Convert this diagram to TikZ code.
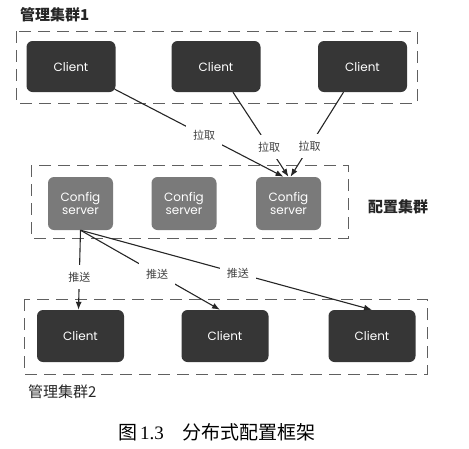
\documentclass[tikz,border=0pt]{standalone}
\usepackage{fontspec}
\newfontfamily\cjk{Noto Sans CJK SC}
\newfontfamily\gothic{Poppins}
\newfontfamily\serifnum{Liberation Serif}
\usetikzlibrary{arrows.meta}
\definecolor{clientfill}{HTML}{363636}
\definecolor{cfgfill}{HTML}{7A7A7A}
\definecolor{groupline}{HTML}{606060}
\begin{document}
\begin{tikzpicture}[x=1pt,y=-1pt,
  client/.style={rectangle,rounded corners=6pt,fill=clientfill,minimum width=89pt,minimum height=51pt,text=white,inner sep=0pt,font=\gothic\fontsize{12}{13}\selectfont},
  cfg/.style={rectangle,rounded corners=6pt,fill=cfgfill,minimum width=65pt,minimum height=53pt,text=white,align=center,inner sep=0pt,font=\gothic\fontsize{12}{12.5}\selectfont},
  group/.style={draw=groupline,dash pattern=on 12pt off 7pt,line width=0.9pt},
  link/.style={line width=1.1pt,draw=black!85,-{Latex[length=8pt,width=6pt]}},
  lbl/.style={fill=white,inner sep=7pt,text=black!75,font=\cjk\fontsize{11}{11}\selectfont},
  title/.style={anchor=west,inner sep=0pt,text=black!85,font=\cjk\bfseries\fontsize{15}{15}\selectfont}
]
\useasboundingbox (0,0) rectangle (469,448);

% group frames
\draw[group] (16,31) rectangle (417,103);
\draw[group] (31,165) rectangle (348,238);
\draw[group] (24,299) rectangle (427,374);

% titles
\node[title] (t1) at (20,15) {管理集群1};
\node[title] (t2) at (368,207) {配置集群};
\node[title,font=\cjk\fontsize{15}{15}\selectfont] (t3) at (28,392) {管理集群2};

% top clients
\node[client] (c1) at (71,66.5) {Client};
\node[client] (c2) at (216,66.5) {Client};
\node[client] (c3) at (362.5,66.5) {Client};

% config servers
\node[cfg] (s1) at (80.5,203.5) {Config\\server};
\node[cfg] (s2) at (184,203.5) {Config\\server};
\node[cfg] (s3) at (288.5,203.5) {Config\\server};

% bottom clients
\node[client,minimum width=87pt,minimum height=52pt] (d1) at (80.5,336) {Client};
\node[client,minimum width=87pt,minimum height=52pt] (d2) at (225,336) {Client};
\node[client,minimum width=87pt,minimum height=52pt] (d3) at (372,336) {Client};

% pull connectors
\draw[link] ([shift={(-1,-3)}]c1.south east) -- node[lbl,pos=0.53] (p1) {拉取} ([xshift=-5pt]s3.north);
\draw[link] ([xshift=17pt]c2.south) -- node[lbl,pos=0.65] (p2) {拉取} (s3.north);
\draw[link] ([xshift=-19pt]c3.south) -- node[lbl,pos=0.64] (p3) {拉取} ([xshift=2pt]s3.north);

% push connectors
\draw[link] (s1.south) -- node[lbl,pos=0.59] (q1) {推送} ([xshift=-2pt]d1.north);
\draw[link] (s1.south) -- node[lbl,pos=0.55] (q2) {推送} ([xshift=-5pt]d2.north);
\draw[link] (s1.south) -- node[lbl,pos=0.54] (q3) {推送} (d3.north);

% caption
\node (cap) at (217,432) {\fontsize{19}{19}\selectfont{\cjk 图}\,{\serifnum 1.3}\quad{\cjk 分布式配置框架}};
\end{tikzpicture}
\end{document}
